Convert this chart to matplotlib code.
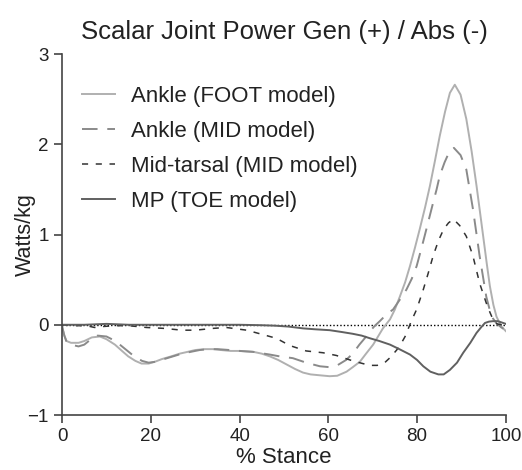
import matplotlib
matplotlib.use("Agg")
import matplotlib.pyplot as plt

plt.rcParams['font.family'] = ['Liberation Sans', 'DejaVu Sans']

# % stance / watts per kg
foot_x = [0, 0.5, 1, 2, 3.7, 5, 6.7, 8.5, 10, 11.9, 13.5, 14.9, 16.5, 17.9, 19.5,
          20.9, 22.5, 24.6, 26.5, 28.3, 30, 32.1, 34, 35.8, 38, 40, 43.1, 45, 46.8,
          48.7, 50.6, 52.5, 54.3, 56, 58.1, 60.3, 62, 64.1, 65.5, 67.1, 68.5, 70.1,
          71.2, 72.3, 73.9, 75, 76.1, 77.3, 78.4, 79.5, 80.6, 81.8, 82.9, 84, 85.1,
          86.3, 87.4, 88.5, 89.8, 91.1, 92.3, 93.4, 94.9, 95.7, 96.4, 97.2, 97.9, 99,
          100]
foot_y = [-0.02, -0.12, -0.18, -0.2, -0.2, -0.18, -0.14, -0.13, -0.16, -0.22, -0.29,
          -0.35, -0.4, -0.43, -0.43, -0.41, -0.38, -0.35, -0.32, -0.3, -0.28, -0.27,
          -0.27, -0.28, -0.29, -0.29, -0.30, -0.32, -0.35, -0.39, -0.44, -0.49, -0.53,
          -0.55, -0.56, -0.57, -0.565, -0.52, -0.47, -0.41, -0.32, -0.22, -0.13, -0.04,
          0.06, 0.17, 0.31, 0.47, 0.65, 0.85, 1.06, 1.3, 1.54, 1.81, 2.09, 2.36, 2.57,
          2.66, 2.55, 2.28, 1.92, 1.54, 0.98, 0.68, 0.43, 0.22, 0.09, -0.02, -0.07]

mid_x = [0, 0.5, 1, 2, 3.7, 5, 6.5, 8, 10, 12, 14, 16, 18, 19.5, 21, 23, 25, 27, 29,
         31, 33, 35, 37.8, 40, 43, 46.8, 49, 52, 55, 58.1, 60.3, 62, 64, 65.5, 67,
         68.2, 69.4, 70.5, 71.6, 73, 74.6, 76, 77.6, 78.8, 79.9, 81, 82.1, 83.6,
         84.4, 85.1, 86.2, 87.2, 88.3, 89.8, 91.1, 92.6, 94.1, 95.6, 96.4, 97.1, 98,
         99, 100]
mid_y = [-0.02, -0.12, -0.19, -0.22, -0.24, -0.22, -0.16, -0.12, -0.13, -0.18, -0.26,
         -0.34, -0.40, -0.42, -0.41, -0.38, -0.35, -0.32, -0.30, -0.28, -0.27, -0.27,
         -0.28, -0.29, -0.30, -0.33, -0.35, -0.37, -0.42, -0.46, -0.47, -0.45, -0.39,
         -0.32, -0.22, -0.15, -0.07, -0.01, 0.04, 0.11, 0.17, 0.27, 0.39, 0.51, 0.65,
         0.85, 1.06, 1.35, 1.5, 1.65, 1.8, 1.91, 1.96, 1.88, 1.72, 1.28, 0.76, 0.31,
         0.16, 0.07, 0.01, -0.03, -0.06]

tarsal_x = [0, 2, 4, 5.5, 7.3, 9, 12, 15, 19, 23, 27, 30, 34, 37, 41.6, 44.6, 48.3,
            51.3, 55, 58.8, 61.8, 65.5, 69.3, 71, 72.7, 74, 75.4, 76.5, 77.3, 78.7,
            79.9, 81.4, 82.5, 83.6, 84.8, 86, 87.1, 88.2, 89.6, 91.1, 92.6, 94.1,
            95.6, 96.4, 97.1, 98, 99, 100]
tarsal_y = [0, -0.01, -0.01, -0.01, -0.03, -0.02, -0.01, -0.01, -0.03, -0.04, -0.06,
            -0.06, -0.04, -0.03, -0.06, -0.10, -0.15, -0.23, -0.29, -0.31, -0.34, -0.40,
            -0.45, -0.45, -0.42, -0.36, -0.28, -0.2, -0.13, 0.04, 0.17, 0.39, 0.57,
            0.76, 0.93, 1.06, 1.13, 1.17, 1.1, 0.98, 0.76, 0.46, 0.24, 0.14, 0.06,
            0.01, 0.0, 0.0]

mp_x = [0, 5, 10, 15, 20, 25, 30, 35, 40, 45, 48, 51, 54.3, 57, 60.3, 63, 65.5, 67.5,
        69.4, 71.5, 73.9, 76, 78.4, 80, 81.4, 83, 84.8, 86, 87.4, 89, 90.4, 92, 93.4,
        94.4, 95.3, 96.2, 97.1, 98.2, 99.4, 100]
mp_y = [0, 0, 0.01, 0, 0, 0, 0, 0, 0, -0.005, -0.01, -0.02, -0.04, -0.05, -0.06, -0.08,
        -0.10, -0.12, -0.15, -0.18, -0.22, -0.27, -0.33, -0.39, -0.46, -0.52, -0.55,
        -0.55, -0.50, -0.42, -0.31, -0.2, -0.09, -0.03, 0.02, 0.035, 0.04, 0.04, 0.02,
        0.01]

labels = ['Ankle (FOOT model)', 'Ankle (MID model)',
          'Mid-tarsal (MID model)', 'MP (TOE model)']

fig = plt.figure(figsize=(5.22, 4.70), dpi=100)
ax = fig.add_axes([0.119, 0.117, 0.85, 0.768])

ax.axhline(0, color='black', lw=1.0, ls=(0, (1, 1.5)), zorder=1)
ax.plot(foot_x, foot_y, color='#b0b0b0', lw=1.4, label=labels[0])
ax.plot(mid_x, mid_y, color='#8a8a8a', lw=1.4, ls=(0, (8, 5)), label=labels[1])
ax.plot(tarsal_x, tarsal_y, color='#333333', lw=1.1, ls=(0, (4, 5)), label=labels[2])
ax.plot(mp_x, mp_y, color='#606060', lw=1.4, label=labels[3])

ax.set_xlim(0, 100)
ax.set_ylim(-1, 3)
ax.set_xticks([0, 20, 40, 60, 80, 100])
ax.set_yticks([-1, 0, 1, 2, 3])
for side in ['top', 'right']:
    ax.spines[side].set_visible(False)
for side in ['left', 'bottom']:
    ax.spines[side].set_color('#444444')
    ax.spines[side].set_linewidth(1.2)
ax.tick_params(length=6, width=1.2, color='#444444', labelsize=13.5, labelcolor='#222222')

ax.set_xlabel('% Stance', fontsize=16, color='#222222', labelpad=1)
ax.set_ylabel('Watts/kg', fontsize=15.5, color='#222222')
ax.yaxis.set_label_coords(-0.058, 0.5)
ax.set_title('Scalar Joint Power Gen (+) / Abs (-)', fontsize=18.5,
             color='#222222', pad=11)

ax.legend(loc='upper left', bbox_to_anchor=(0.045, 0.911), frameon=False,
          borderaxespad=0, borderpad=0,
          fontsize=16, handlelength=1.5, labelspacing=0.62, handletextpad=0.7,
          labelcolor='#222222')

fig.savefig('out.png', dpi=100)
